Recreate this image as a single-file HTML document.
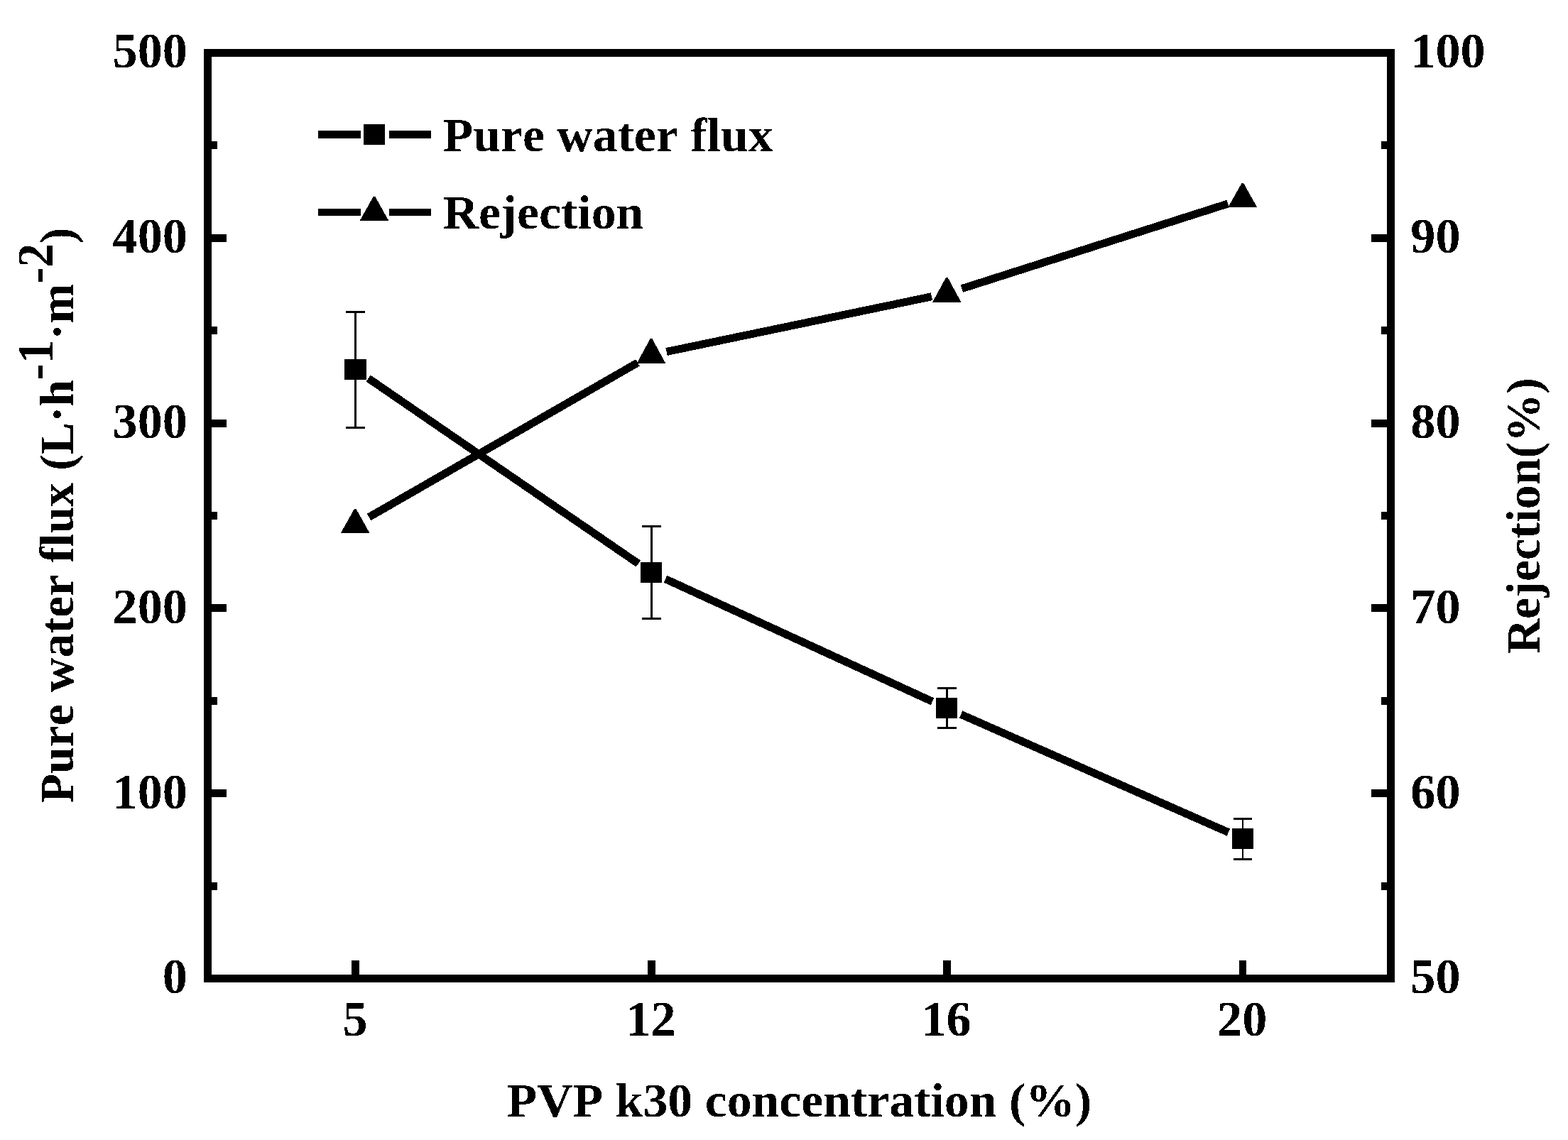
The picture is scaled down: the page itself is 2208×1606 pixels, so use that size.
<!DOCTYPE html>
<html lang="en">
<head>
<meta charset="utf-8">
<title>Pure water flux and rejection vs PVP k30 concentration</title>
<style>
html, body { margin: 0; padding: 0; background: #fff; }
body { width: 2208px; height: 1606px; overflow: hidden; }
svg { display: block; }
.shapes { fill: #000; stroke: none; shape-rendering: crispEdges; }
.tick { font-size: 70.2px; }
.labels { fill: #000; font-family: "Liberation Serif", serif; font-weight: bold; font-size: 69.8px; font-kerning: none; font-variant-ligatures: none; }
</style>
</head>
<body>
<svg width="2208" height="1606" viewBox="0 0 2208 1606" role="img" aria-label="Pure water flux and rejection versus PVP k30 concentration">
<rect width="2208" height="1606" fill="#fff"/>
<g class="shapes">
<path d="M287 69H1964V1384H287Z M298 80V1373H1953V80Z" fill-rule="evenodd"/>
<rect x="298" y="1243" width="8" height="11"/>
<rect x="1945" y="1243" width="8" height="11"/>
<rect x="298" y="1112" width="21" height="11"/>
<rect x="1931" y="1112" width="22" height="11"/>
<rect x="298" y="982" width="8" height="11"/>
<rect x="1945" y="982" width="8" height="11"/>
<rect x="298" y="851" width="21" height="11"/>
<rect x="1931" y="851" width="22" height="11"/>
<rect x="298" y="721" width="8" height="11"/>
<rect x="1945" y="721" width="8" height="11"/>
<rect x="298" y="591" width="21" height="11"/>
<rect x="1931" y="591" width="22" height="11"/>
<rect x="298" y="460" width="8" height="11"/>
<rect x="1945" y="460" width="8" height="11"/>
<rect x="298" y="330" width="21" height="11"/>
<rect x="1931" y="330" width="22" height="11"/>
<rect x="298" y="199" width="8" height="11"/>
<rect x="1945" y="199" width="8" height="11"/>
<rect x="495" y="1353" width="11" height="20"/>
<rect x="912" y="1353" width="11" height="20"/>
<rect x="1328" y="1353" width="11" height="20"/>
<rect x="1745" y="1353" width="10" height="20"/>
<polygon points="515.52,537.49 895.75,798.58 901.98,789.51 521.75,528.42"/>
<polygon points="522.31,733.30 900.67,515.73 895.19,506.20 516.83,723.77"/>
<polygon points="934.70,820.68 1310.71,993.32 1315.30,983.32 939.29,810.68"/>
<polygon points="939.66,500.90 1313.08,423.17 1310.84,412.40 937.42,490.13"/>
<polygon points="1350.91,1011.41 1727.65,1177.65 1732.09,1167.59 1355.35,1001.35"/>
<polygon points="1356.13,411.85 1730.72,292.23 1727.37,281.75 1352.78,401.37"/>
<rect x="499" y="438" width="3" height="166"/>
<rect x="487" y="438" width="27" height="3"/>
<rect x="487" y="601" width="27" height="3"/>
<rect x="916" y="740" width="3" height="133"/>
<rect x="904" y="740" width="27" height="3"/>
<rect x="904" y="870" width="27" height="3"/>
<rect x="1332" y="968" width="3" height="59"/>
<rect x="1320" y="968" width="27" height="3"/>
<rect x="1320" y="1024" width="27" height="3"/>
<rect x="1749" y="1152" width="2" height="60"/>
<rect x="1737" y="1152" width="26" height="3"/>
<rect x="1737" y="1209" width="26" height="3"/>
<rect x="485" y="506" width="31" height="29"/>
<rect x="902" y="792" width="30" height="29"/>
<rect x="1318" y="983" width="30" height="29"/>
<rect x="1735" y="1167" width="30" height="29"/>
<polygon points="499.00,716.80 501.40,716.80 520.40,750.70 480.00,750.70"/>
<polygon points="915.80,476.80 918.20,476.80 937.20,511.70 896.80,511.70"/>
<polygon points="1332.10,390.80 1334.50,390.80 1353.50,425.70 1313.10,425.70"/>
<polygon points="1748.60,257.80 1751.00,257.80 1770.00,291.70 1729.60,291.70"/>
<rect x="448" y="184" width="60" height="11"/>
<rect x="548" y="184" width="59" height="11"/>
<rect x="512" y="175" width="30" height="29"/>
<rect x="448" y="294" width="60" height="10"/>
<rect x="548" y="294" width="59" height="10"/>
<polygon points="525.80,276.80 528.20,276.80 547.20,310.70 506.80,310.70"/>
</g>
<defs>
<filter id="crisp" x="0" y="0" width="2208" height="1606" filterUnits="userSpaceOnUse" color-interpolation-filters="sRGB">
<feComponentTransfer><feFuncA type="discrete" tableValues="0 1"/></feComponentTransfer>
</filter>
</defs>
<g class="labels" filter="url(#crisp)">
<text class="tick" x="263.9" y="1399.4" text-anchor="end">0</text>
<text class="tick" x="263.9" y="1138.6" text-anchor="end">100</text>
<text class="tick" x="263.9" y="877.8" text-anchor="end">200</text>
<text class="tick" x="263.9" y="617.0" text-anchor="end">300</text>
<text class="tick" x="263.9" y="356.2" text-anchor="end">400</text>
<text class="tick" x="263.9" y="95.4" text-anchor="end">500</text>
<text class="tick" x="1986.3" y="1399.4">50</text>
<text class="tick" x="1986.3" y="1138.6">60</text>
<text class="tick" x="1986.3" y="877.8">70</text>
<text class="tick" x="1986.3" y="617.0">80</text>
<text class="tick" x="1986.3" y="356.2">90</text>
<text class="tick" x="1986.3" y="95.4">100</text>
<text class="tick" x="500" y="1459.3" text-anchor="middle">5</text>
<text class="tick" x="916.4" y="1459.3" text-anchor="middle">12</text>
<text class="tick" x="1332.5" y="1459.3" text-anchor="middle">16</text>
<text class="tick" x="1749.2" y="1459.3" text-anchor="middle">20</text>
<text transform="translate(623.5 213.2) scale(1 0.975)">Pure water flux</text>
<text transform="translate(623.5 322.2) scale(1 0.975)">Rejection</text>
<text transform="translate(1125.4 1573.2) scale(1 0.975)" text-anchor="middle">PVP k30 concentration (%)</text>
<text transform="translate(103.2 1131.40) rotate(-90) scale(0.9707 0.975)">Pure water flux (L·h</text>
<text transform="translate(74.2 534.89) rotate(-90) scale(0.9707 1.02)">-1</text>
<text transform="translate(103.2 478.44) rotate(-90) scale(0.9707 0.975)">·m</text>
<text transform="translate(74.2 399.40) rotate(-90) scale(0.9707 1.02)">-2</text>
<text transform="translate(103.2 342.95) rotate(-90) scale(0.9707 0.975)">)</text>
<text transform="translate(2168.2 921) rotate(-90) scale(0.9742 0.975)">Rejection(%)</text>
</g>
</svg>
</body>
</html>
